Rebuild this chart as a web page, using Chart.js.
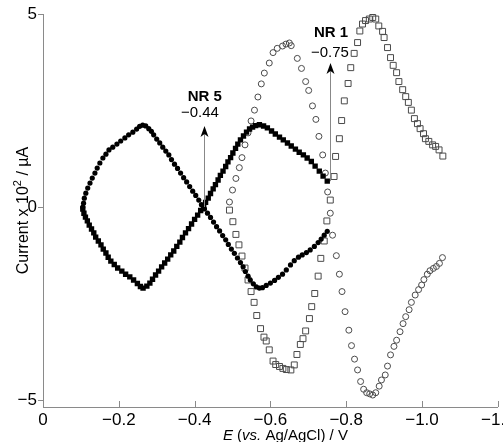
<!DOCTYPE html>
<html>
<head>
<meta charset="utf-8">
<script src="https://cdn.jsdelivr.net/npm/chart.js@4/dist/chart.umd.min.js"></script>
<style>
html,body{margin:0;padding:0;background:#fff;}
#wrap{width:503px;height:442px;position:relative;}
</style>
</head>
<body>
<div id="wrap"><canvas id="c"></canvas></div>
<script>
// Filled circles (NR 5, one sweep)
const fcX = [-0.105,-0.107,-0.109,-0.113,-0.118,-0.124,-0.130,-0.137,-0.143,-0.150,-0.158,-0.166,-0.174,-0.184,-0.195,-0.205,-0.216,-0.226,-0.237,-0.247,-0.255,-0.263,
  -0.271,-0.279,-0.286,-0.292,-0.300,-0.308,-0.316,-0.324,-0.332,-0.339,-0.347,-0.355,-0.363,-0.371,-0.379,-0.387,-0.395,-0.403,-0.411,-0.418,-0.426,
  -0.434,-0.442,-0.450,-0.458,-0.466,-0.474,-0.482,-0.489,-0.497,-0.505,-0.513,-0.521,-0.528,-0.534,-0.541,-0.547,-0.555,-0.563,-0.571,
  -0.579,-0.589,-0.600,-0.611,-0.621,-0.632,-0.642,-0.653,-0.663,-0.674,-0.684,-0.695,-0.705,-0.716,-0.726,-0.734,-0.742,-0.750];
const fcY = [0,0.10,0.23,0.36,0.49,0.62,0.75,0.88,1.01,1.14,1.27,1.37,1.48,1.55,1.63,1.71,1.79,1.87,1.94,2.02,2.09,2.12,
  2.10,2.03,1.96,1.87,1.76,1.66,1.55,1.45,1.35,1.23,1.11,1.00,0.88,0.76,0.65,0.53,0.41,0.30,0.18,0.06,-0.05,
  -0.16,-0.27,-0.39,-0.51,-0.62,-0.74,-0.85,-0.97,-1.09,-1.20,-1.32,-1.44,-1.55,-1.67,-1.79,-1.89,-1.99,-2.07,-2.10,
  -2.09,-2.03,-1.97,-1.90,-1.82,-1.74,-1.63,-1.50,-1.39,-1.30,-1.24,-1.18,-1.11,-1.02,-0.92,-0.83,-0.73,-0.63];

// Filled squares (NR 5, other sweep)
const fsX = [-0.105,-0.108,-0.112,-0.117,-0.122,-0.128,-0.134,-0.139,-0.146,-0.153,-0.159,-0.166,-0.172,-0.179,-0.188,-0.197,-0.208,-0.218,-0.229,-0.239,-0.249,-0.257,-0.264,
  -0.274,-0.282,-0.289,-0.297,-0.305,-0.313,-0.321,-0.329,-0.337,-0.345,-0.353,-0.361,-0.368,-0.376,-0.384,-0.392,-0.400,-0.408,-0.416,-0.424,
  -0.429,-0.436,-0.442,-0.449,-0.455,-0.462,-0.468,-0.475,-0.482,-0.488,-0.495,-0.501,-0.508,-0.514,-0.521,-0.529,-0.537,-0.545,-0.553,-0.561,-0.571,
  -0.582,-0.592,-0.603,-0.613,-0.624,-0.634,-0.645,-0.655,-0.666,-0.676,-0.687,-0.697,-0.708,-0.718,-0.729,-0.739,-0.750];
const fsY = [-0.05,-0.16,-0.26,-0.36,-0.47,-0.57,-0.67,-0.78,-0.88,-0.98,-1.09,-1.19,-1.30,-1.40,-1.49,-1.58,-1.66,-1.74,-1.81,-1.89,-1.98,-2.06,-2.10,
  -2.05,-1.97,-1.87,-1.76,-1.66,-1.55,-1.45,-1.35,-1.24,-1.14,-1.02,-0.91,-0.79,-0.67,-0.56,-0.44,-0.32,-0.21,-0.09,0.03,
  0.12,0.23,0.35,0.47,0.58,0.70,0.82,0.93,1.05,1.17,1.28,1.40,1.52,1.63,1.74,1.84,1.94,2.02,2.07,2.11,2.13,
  2.10,2.05,1.97,1.89,1.81,1.74,1.66,1.58,1.50,1.42,1.35,1.27,1.18,1.06,0.93,0.80,0.67];

// Open circles (NR 1, one sweep)
const ocX = [-0.492,-0.500,-0.509,-0.518,-0.525,-0.533,-0.541,-0.549,-0.558,-0.567,-0.576,-0.584,-0.597,-0.607,-0.618,-0.632,-0.641,-0.650,-0.655,
  -0.671,-0.682,-0.693,-0.701,-0.711,-0.720,-0.728,-0.738,-0.745,-0.751,-0.758,-0.764,-0.774,-0.782,-0.789,-0.797,-0.807,-0.814,-0.822,-0.830,-0.838,-0.846,-0.854,-0.862,-0.870,
  -0.878,-0.887,-0.893,-0.903,-0.909,-0.917,-0.926,-0.933,-0.942,-0.950,-0.957,-0.966,-0.972,-0.982,-0.991,-0.999,-1.005,-1.014,-1.021,-1.030,-1.038,-1.046,-1.054];
const ocY = [0.13,0.44,0.74,1.02,1.28,1.61,1.92,2.23,2.51,2.85,3.19,3.47,3.73,4.00,4.11,4.17,4.22,4.25,4.18,
  3.85,3.59,3.25,3.02,2.62,2.27,1.83,1.35,0.88,0.39,-0.16,-0.73,-1.26,-1.74,-2.19,-2.71,-3.19,-3.59,-3.94,-4.22,-4.52,-4.72,-4.81,-4.84,-4.87,
  -4.81,-4.64,-4.48,-4.35,-4.12,-3.83,-3.61,-3.45,-3.23,-3.02,-2.84,-2.66,-2.47,-2.28,-2.14,-2.02,-1.88,-1.74,-1.65,-1.59,-1.54,-1.46,-1.31];

// Open squares (NR 1, other sweep)
const osX = [-0.492,-0.501,-0.509,-0.517,-0.525,-0.533,-0.541,-0.549,-0.557,-0.564,-0.574,-0.583,-0.589,-0.597,-0.607,-0.614,-0.624,-0.633,-0.642,-0.654,
  -0.663,-0.670,-0.679,-0.686,-0.693,-0.703,-0.709,-0.717,-0.726,-0.733,-0.742,-0.749,-0.758,-0.768,-0.772,-0.782,-0.788,-0.795,-0.805,-0.812,-0.821,-0.830,-0.836,-0.843,-0.851,-0.861,-0.870,
  -0.878,-0.886,-0.896,-0.900,-0.909,-0.917,-0.924,-0.933,-0.939,-0.949,-0.957,-0.964,-0.972,-0.980,-0.988,-0.995,-1.004,-1.009,-1.018,-1.028,-1.036,-1.045,-1.055];
const osY = [-0.08,-0.38,-0.71,-0.98,-1.27,-1.58,-1.89,-2.19,-2.47,-2.81,-3.15,-3.37,-3.47,-3.70,-3.99,-4.08,-4.13,-4.18,-4.21,-4.22,
  -4.09,-3.82,-3.56,-3.41,-3.21,-2.89,-2.58,-2.24,-1.79,-1.33,-0.88,-0.36,0.18,0.79,1.31,1.77,2.24,2.75,3.20,3.61,3.98,4.26,4.56,4.74,4.83,4.87,4.91,
  4.87,4.69,4.55,4.39,4.13,3.87,3.67,3.48,3.25,3.04,2.86,2.71,2.51,2.29,2.16,2.03,1.90,1.77,1.70,1.61,1.57,1.48,1.32];

const xTicks = [0,-0.2,-0.4,-0.6,-0.8,-1.0,-1.2];
const yTicks = [-5,0,5];

const annotations = [
  {label:'NR 5', value:'\u22120.44', arrowX:-0.424, fromY:0, toY:2.10, labelX:-0.427, labelY:2.85, valueX:-0.414, valueY:2.44},
  {label:'NR 1', value:'\u22120.75', arrowX:-0.757, fromY:0.67, toY:3.73, labelX:-0.760, labelY:4.51, valueX:-0.757, valueY:3.99}
];

function pts(xs, ys){ return xs.map((x,i)=>({x:x, y:ys[i]})); }
function fmt(v){ if (Math.abs(v)<1e-9) return '0'; return (v<0?'\u2212':'') + Math.abs(v).toFixed(1); }
function fmtY(v){ if (Math.abs(v)<1e-9) return '0'; return (v<0?'\u2212':'') + Math.abs(v).toFixed(0); }

const AXIS = '#8a8a8a';
const FONT = "'Liberation Sans', Arial, Helvetica, sans-serif";

const decor = {
  id:'decor',
  afterDraw(chart){
    const ctx = chart.ctx, xs = chart.scales.x, ys = chart.scales.y, ca = chart.chartArea;
    ctx.save();
    // inward x ticks
    ctx.strokeStyle = AXIS; ctx.lineWidth = 1;
    xTicks.forEach(t=>{
      const px = Math.round(xs.getPixelForValue(t))+0.5;
      ctx.beginPath(); ctx.moveTo(px, ca.bottom); ctx.lineTo(px, ca.bottom-6); ctx.stroke();
    });
    // arrows and labels
    annotations.forEach(a=>{
      const px = Math.round(xs.getPixelForValue(a.arrowX))+0.5;
      const y0 = ys.getPixelForValue(a.fromY), y1 = ys.getPixelForValue(a.toY);
      ctx.strokeStyle = '#888'; ctx.lineWidth = 1;
      ctx.beginPath(); ctx.moveTo(px, y0); ctx.lineTo(px, y1+6); ctx.stroke();
      ctx.fillStyle = '#000';
      ctx.beginPath();
      ctx.moveTo(px, y1);
      ctx.lineTo(px+4, y1+11);
      ctx.lineTo(px, y1+8);
      ctx.lineTo(px-4, y1+11);
      ctx.closePath(); ctx.fill();
      ctx.textAlign = 'center'; ctx.textBaseline = 'middle';
      ctx.font = 'bold 15px ' + FONT;
      ctx.fillText(a.label, xs.getPixelForValue(a.labelX), ys.getPixelForValue(a.labelY));
      ctx.font = '15px ' + FONT;
      ctx.fillText(a.value, xs.getPixelForValue(a.valueX), ys.getPixelForValue(a.valueY));
    });
    // x title with italic parts
    const parts = [['E','italic '],[' (',''],['vs.','italic '],[' Ag/AgCl) / V','']];
    ctx.textBaseline = 'middle'; ctx.textAlign = 'left'; ctx.fillStyle = '#000';
    let total = 0;
    parts.forEach(p=>{ ctx.font = p[1]+'15px '+FONT; total += ctx.measureText(p[0]).width; });
    let cx = (ca.left+ca.right)/2 + 15 - total/2;
    const ty = 436;
    parts.forEach(p=>{ ctx.font = p[1]+'15px '+FONT; ctx.fillText(p[0], cx, ty); cx += ctx.measureText(p[0]).width; });
    // y title with superscript
    ctx.translate(24, (ca.top+ca.bottom)/2);
    ctx.rotate(-Math.PI/2);
    const yParts = [['Current x 10', 16, 0], ['2', 11, -6], [' / \u00B5A', 16, 0]];
    let w = 0;
    yParts.forEach(p=>{ ctx.font = p[1]+'px '+FONT; w += ctx.measureText(p[0]).width; });
    let sx = -w/2;
    ctx.textAlign = 'left';
    yParts.forEach(p=>{ ctx.font = p[1]+'px '+FONT; ctx.fillText(p[0], sx, p[2]); sx += ctx.measureText(p[0]).width; });
    ctx.restore();
  }
};

new Chart(document.getElementById('c'), {
  type:'scatter',
  data:{
    datasets:[
      {label:'fc', data:pts(fcX,fcY), pointStyle:'circle', pointRadius:2.6, backgroundColor:'#000', borderColor:'#000', borderWidth:0, order:0},
      {label:'fs', data:pts(fsX,fsY), pointStyle:'rect', pointRadius:3.8, backgroundColor:'#000', borderColor:'#000', borderWidth:0, order:1},
      {label:'oc', data:pts(ocX,ocY), pointStyle:'circle', pointRadius:3, backgroundColor:'rgba(255,255,255,0)', borderColor:'#4a4a4a', borderWidth:1, order:2},
      {label:'os', data:pts(osX,osY), pointStyle:'rect', pointRadius:4.2, backgroundColor:'rgba(255,255,255,0)', borderColor:'#4a4a4a', borderWidth:1, order:3}
    ]
  },
  options:{
    responsive:true, maintainAspectRatio:false, animation:false,
    layout:{padding:{top:14, right:5, left:0, bottom:0}},
    plugins:{legend:{display:false}, tooltip:{enabled:false}},
    scales:{
      x:{
        type:'linear', reverse:true, min:-1.2, max:0,
        afterBuildTicks(s){ s.ticks = xTicks.map(v=>({value:v})); },
        afterFit(s){ s.height = 35; s.paddingLeft = 0; s.paddingRight = 0; },
        grid:{display:false, drawTicks:false},
        border:{display:true, color:AXIS, width:1},
        ticks:{color:'#000', font:{size:17, family:FONT}, padding:3, maxRotation:0, autoSkip:false, callback:(v)=>fmt(v)}
      },
      y:{
        type:'linear', min:-5.18, max:5,
        afterBuildTicks(s){ s.ticks = yTicks.map(v=>({value:v})); },
        afterFit(s){ s.width = 43; s.paddingTop = 0; s.paddingBottom = 0; },
        grid:{display:true, drawOnChartArea:false, drawTicks:true, tickLength:5, color:AXIS},
        border:{display:true, color:AXIS, width:1},
        ticks:{color:'#000', font:{size:17, family:FONT}, padding:1, callback:(v)=>fmtY(v)}
      }
    }
  },
  plugins:[decor]
});
</script>
</body>
</html>
